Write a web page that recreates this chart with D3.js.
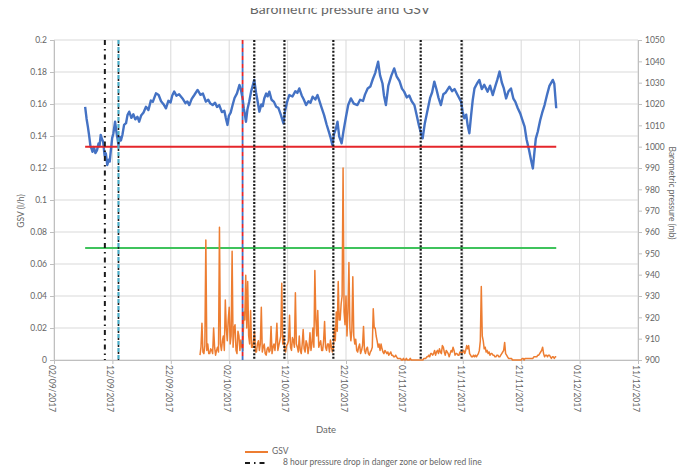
<!DOCTYPE html>
<html>
<head>
<meta charset="utf-8">
<script src="https://cdn.jsdelivr.net/npm/d3@7"></script>
<style>
  html, body { margin: 0; padding: 0; background: #fff; }
  svg { display: block; font-family: Lato, "Open Sans", sans-serif; }
</style>
</head>
<body>
<svg id="chart" width="677" height="472"></svg>
<script>
// ---- Data ---------------------------------------------------------------
const chartTitle = "Barometric pressure and GSV";

// Date axis ticks (every ten days)
const dateTickLabels = ["02/09/2017", "12/09/2017", "22/09/2017", "02/10/2017", "12/10/2017",
  "22/10/2017", "01/11/2017", "11/11/2017", "21/11/2017", "01/12/2017", "11/12/2017"];

// GSV axis (l/h) and pressure axis (mb) ticks
const gsvTicks = [0, 0.02, 0.04, 0.06, 0.08, 0.1, 0.12, 0.14, 0.16, 0.18, 0.2];
const pressureTicks = [900, 910, 920, 930, 940, 950, 960, 970, 980, 990, 1000,
  1010, 1020, 1030, 1040, 1050];

// Barometric pressure readings: [time, mb]
const pressureReadings = [
  ["2017-09-07 08:00", 1018.7], ["2017-09-07 14:00", 1013.0], ["2017-09-07 19:00", 1009.5],
  ["2017-09-08 00:00", 1005.5], ["2017-09-08 06:00", 1000.0], ["2017-09-08 10:00", 999.2],
  ["2017-09-08 14:00", 997.6], ["2017-09-08 20:00", 999.8], ["2017-09-09 02:00", 997.0],
  ["2017-09-09 09:00", 998.4], ["2017-09-09 15:00", 1001.5], ["2017-09-09 19:00", 1000.2],
  ["2017-09-10 00:00", 1005.5], ["2017-09-10 05:00", 1003.6], ["2017-09-10 10:00", 1002.3],
  ["2017-09-10 16:00", 995.8], ["2017-09-10 21:00", 996.9], ["2017-09-11 03:00", 991.4],
  ["2017-09-11 09:00", 993.9], ["2017-09-11 13:00", 993.0], ["2017-09-11 17:00", 997.6],
  ["2017-09-11 23:00", 1004.0], ["2017-09-12 04:00", 1006.2], ["2017-09-12 11:00", 1011.7],
  ["2017-09-12 17:00", 1006.5], ["2017-09-12 21:00", 1003.8], ["2017-09-13 01:00", 1000.8],
  ["2017-09-13 06:00", 1004.6], ["2017-09-13 11:00", 1002.9], ["2017-09-13 17:00", 1005.5],
  ["2017-09-14 00:00", 1010.2], ["2017-09-14 08:00", 1011.0], ["2017-09-14 14:00", 1014.8],
  ["2017-09-14 21:00", 1016.4], ["2017-09-15 06:00", 1013.5], ["2017-09-15 14:00", 1015.2],
  ["2017-09-15 22:00", 1012.8], ["2017-09-16 07:00", 1014.0], ["2017-09-16 14:00", 1011.7],
  ["2017-09-16 22:00", 1014.6], ["2017-09-17 08:00", 1016.0], ["2017-09-17 18:00", 1018.7],
  ["2017-09-18 04:00", 1017.2], ["2017-09-18 14:00", 1021.6], ["2017-09-18 22:00", 1021.0],
  ["2017-09-19 11:00", 1025.0], ["2017-09-19 22:00", 1024.2], ["2017-09-20 08:00", 1021.3],
  ["2017-09-20 18:00", 1019.9], ["2017-09-21 04:00", 1018.0], ["2017-09-21 14:00", 1021.5],
  ["2017-09-21 23:00", 1020.7], ["2017-09-22 06:00", 1024.0], ["2017-09-22 14:00", 1025.8],
  ["2017-09-22 23:00", 1023.9], ["2017-09-23 10:00", 1024.6], ["2017-09-24 00:00", 1022.6],
  ["2017-09-24 12:00", 1020.4], ["2017-09-24 20:00", 1021.2], ["2017-09-25 04:00", 1019.5],
  ["2017-09-25 14:00", 1022.4], ["2017-09-26 00:00", 1024.1], ["2017-09-26 14:00", 1026.6],
  ["2017-09-27 02:00", 1024.3], ["2017-09-27 12:00", 1024.9], ["2017-09-28 00:00", 1021.1],
  ["2017-09-28 10:00", 1022.0], ["2017-09-28 18:00", 1020.3], ["2017-09-29 04:00", 1019.5],
  ["2017-09-29 14:00", 1020.6], ["2017-09-29 22:00", 1018.6], ["2017-09-30 07:00", 1019.5],
  ["2017-09-30 18:00", 1016.2], ["2017-10-01 04:00", 1016.8], ["2017-10-01 10:00", 1013.5],
  ["2017-10-01 17:00", 1010.2], ["2017-10-01 23:00", 1014.6], ["2017-10-02 06:00", 1015.9],
  ["2017-10-02 14:00", 1019.5], ["2017-10-02 22:00", 1022.8], ["2017-10-03 08:00", 1025.0],
  ["2017-10-03 18:00", 1028.9], ["2017-10-03 23:00", 1027.4], ["2017-10-04 07:00", 1022.6],
  ["2017-10-04 12:00", 1017.8], ["2017-10-04 16:00", 1015.4], ["2017-10-04 21:00", 1011.7],
  ["2017-10-05 03:00", 1017.5], ["2017-10-05 10:00", 1020.9], ["2017-10-05 18:00", 1025.8],
  ["2017-10-05 23:00", 1028.0], ["2017-10-06 07:00", 1031.3], ["2017-10-06 14:00", 1025.5],
  ["2017-10-06 20:00", 1021.8], ["2017-10-07 04:00", 1016.4], ["2017-10-07 12:00", 1019.8],
  ["2017-10-07 18:00", 1019.0], ["2017-10-08 00:00", 1022.6], ["2017-10-08 08:00", 1024.9],
  ["2017-10-08 14:00", 1023.6], ["2017-10-08 21:00", 1025.8], ["2017-10-09 06:00", 1022.0],
  ["2017-10-09 16:00", 1021.0], ["2017-10-10 01:00", 1018.7], ["2017-10-10 10:00", 1018.2],
  ["2017-10-10 20:00", 1015.0], ["2017-10-11 07:00", 1010.9], ["2017-10-11 14:00", 1017.0],
  ["2017-10-11 22:00", 1021.0], ["2017-10-12 07:00", 1024.2], ["2017-10-12 20:00", 1023.5],
  ["2017-10-13 08:00", 1026.0], ["2017-10-13 16:00", 1025.2], ["2017-10-14 00:00", 1027.3],
  ["2017-10-14 10:00", 1024.0], ["2017-10-14 18:00", 1022.2], ["2017-10-15 04:00", 1019.5],
  ["2017-10-15 14:00", 1021.3], ["2017-10-15 22:00", 1020.6], ["2017-10-16 07:00", 1023.4],
  ["2017-10-16 18:00", 1022.1], ["2017-10-17 03:00", 1024.2], ["2017-10-17 12:00", 1021.0],
  ["2017-10-17 20:00", 1018.2], ["2017-10-18 06:00", 1014.8], ["2017-10-18 16:00", 1010.5],
  ["2017-10-19 02:00", 1006.8], ["2017-10-19 08:00", 1004.5], ["2017-10-19 16:00", 1000.8],
  ["2017-10-19 23:00", 1006.0], ["2017-10-20 06:00", 1008.2], ["2017-10-20 13:00", 1011.7],
  ["2017-10-20 20:00", 1004.8], ["2017-10-21 06:00", 1001.6], ["2017-10-21 14:00", 1007.5],
  ["2017-10-22 00:00", 1014.0], ["2017-10-22 09:00", 1019.5], ["2017-10-22 20:00", 1022.6],
  ["2017-10-23 08:00", 1020.2], ["2017-10-23 23:00", 1019.5], ["2017-10-24 10:00", 1022.0],
  ["2017-10-24 22:00", 1021.4], ["2017-10-25 06:00", 1024.4], ["2017-10-25 17:00", 1027.3],
  ["2017-10-26 04:00", 1028.2], ["2017-10-26 14:00", 1031.6], ["2017-10-27 00:00", 1034.5],
  ["2017-10-27 12:00", 1039.8], ["2017-10-27 20:00", 1033.4], ["2017-10-28 06:00", 1029.6],
  ["2017-10-28 12:00", 1024.0], ["2017-10-28 20:00", 1019.5], ["2017-10-29 06:00", 1028.6],
  ["2017-10-29 18:00", 1033.2], ["2017-10-30 06:00", 1036.7], ["2017-10-30 16:00", 1033.0],
  ["2017-10-31 04:00", 1030.7], ["2017-10-31 14:00", 1027.2], ["2017-10-31 23:00", 1025.8],
  ["2017-11-01 10:00", 1023.1], ["2017-11-01 20:00", 1024.0], ["2017-11-02 06:00", 1021.3],
  ["2017-11-02 17:00", 1019.5], ["2017-11-03 02:00", 1015.0], ["2017-11-03 12:00", 1009.8],
  ["2017-11-03 20:00", 1006.4], ["2017-11-04 03:00", 1003.9], ["2017-11-04 12:00", 1011.0],
  ["2017-11-04 22:00", 1016.5], ["2017-11-05 10:00", 1023.0], ["2017-11-05 18:00", 1025.5],
  ["2017-11-06 03:00", 1030.5], ["2017-11-06 12:00", 1026.8], ["2017-11-06 20:00", 1023.0],
  ["2017-11-07 06:00", 1019.5], ["2017-11-07 16:00", 1024.6], ["2017-11-08 02:00", 1025.4],
  ["2017-11-08 17:00", 1028.1], ["2017-11-09 04:00", 1026.0], ["2017-11-09 14:00", 1027.0],
  ["2017-11-10 02:00", 1024.3], ["2017-11-10 17:00", 1021.1], ["2017-11-10 23:00", 1016.5],
  ["2017-11-11 06:00", 1013.3], ["2017-11-11 14:00", 1015.0], ["2017-11-11 20:00", 1010.0],
  ["2017-11-12 03:00", 1006.3], ["2017-11-12 10:00", 1014.6], ["2017-11-12 17:00", 1022.0],
  ["2017-11-13 00:00", 1027.3], ["2017-11-13 10:00", 1029.5], ["2017-11-13 20:00", 1031.3],
  ["2017-11-14 06:00", 1027.0], ["2017-11-14 16:00", 1029.0], ["2017-11-15 06:00", 1025.8],
  ["2017-11-15 16:00", 1028.6], ["2017-11-16 03:00", 1024.2], ["2017-11-16 14:00", 1028.5],
  ["2017-11-16 22:00", 1031.4], ["2017-11-17 07:00", 1035.2], ["2017-11-17 16:00", 1030.2],
  ["2017-11-18 00:00", 1027.6], ["2017-11-18 10:00", 1022.6], ["2017-11-18 20:00", 1026.0],
  ["2017-11-19 06:00", 1027.3], ["2017-11-19 16:00", 1022.5], ["2017-11-20 00:00", 1021.0],
  ["2017-11-20 10:00", 1018.0], ["2017-11-20 20:00", 1015.6], ["2017-11-21 04:00", 1012.8],
  ["2017-11-21 14:00", 1009.4], ["2017-11-21 22:00", 1003.5], ["2017-11-22 08:00", 998.6],
  ["2017-11-22 16:00", 994.0], ["2017-11-23 00:00", 989.8], ["2017-11-23 06:00", 997.0],
  ["2017-11-23 12:00", 1003.8], ["2017-11-23 20:00", 1007.0], ["2017-11-24 06:00", 1012.4],
  ["2017-11-24 14:00", 1015.8], ["2017-11-25 00:00", 1019.5], ["2017-11-25 10:00", 1024.2],
  ["2017-11-25 20:00", 1028.5], ["2017-11-26 10:00", 1031.3], ["2017-11-26 16:00", 1029.5],
  ["2017-11-27 00:00", 1018.0]
];

// GSV readings (l/h), logged every 4 hours from 27/09/2017 00:00 (one row per day)
const gsvStart = "2017-09-27 00:00";
const gsvStepHours = 4;
const gsvValues = [
  0.003, 0.008, 0.023, 0.005, 0.004, 0.009,
  0.075, 0.006, 0.010, 0.004, 0.004, 0.007,
  0.006, 0.004, 0.020, 0.008, 0.003, 0.006,
  0.008, 0.005, 0.083, 0.010, 0.006, 0.012,
  0.015, 0.006, 0.0375, 0.020, 0.012, 0.025,
  0.033, 0.010, 0.015, 0.068, 0.008, 0.020,
  0.022, 0.006, 0.004, 0.018, 0.015, 0.006,
  0.0125, 0.008, 0.006, 0.030, 0.025, 0.053,
  0.020, 0.049, 0.015, 0.010, 0.031, 0.008,
  0.008, 0.012, 0.018, 0.005, 0.005, 0.010,
  0.012, 0.006, 0.010, 0.033, 0.005, 0.008,
  0.010, 0.004, 0.003, 0.007, 0.008, 0.005,
  0.006, 0.021, 0.004, 0.008, 0.010, 0.006,
  0.012, 0.023, 0.006, 0.009, 0.012, 0.015,
  0.048, 0.010, 0.015, 0.006, 0.005, 0.009,
  0.010, 0.012, 0.028, 0.008, 0.006, 0.014,
  0.012, 0.008, 0.042, 0.010, 0.008, 0.005,
  0.015, 0.006, 0.004, 0.010, 0.019, 0.007,
  0.005, 0.012, 0.010, 0.004, 0.008, 0.017,
  0.006, 0.010, 0.020, 0.008, 0.056, 0.025,
  0.015, 0.031, 0.008, 0.010, 0.012, 0.006,
  0.006, 0.012, 0.024, 0.008, 0.006, 0.010,
  0.010, 0.005, 0.0125, 0.008, 0.005, 0.007,
  0.020, 0.012, 0.030, 0.018, 0.049, 0.025,
  0.025, 0.035, 0.040, 0.120, 0.030, 0.022,
  0.040, 0.015, 0.030, 0.061, 0.020, 0.012,
  0.018, 0.052, 0.015, 0.010, 0.013, 0.006,
  0.005, 0.008, 0.010, 0.004, 0.006, 0.009,
  0.021, 0.006, 0.004, 0.007, 0.008, 0.004,
  0.003, 0.005, 0.006, 0.008, 0.032, 0.020,
  0.020, 0.015, 0.012, 0.008, 0.010, 0.006,
  0.010, 0.007, 0.005, 0.004, 0.006, 0.005,
  0.004, 0.005, 0.003, 0.004, 0.005, 0.003,
  0.003, 0.002, 0.002, 0.003, 0.002, 0.001,
  0.001, 0.001, 0.001, 0.000, 0.000, 0.001,
  0.000, 0.000, 0.001, 0.000, 0.000, 0.000,
  0.001, 0.000, 0.000, 0.000, 0.000, 0.000,
  0.000, 0.000, 0.000, 0.000, 0.000, 0.000,
  0.000, 0.000, 0.001, 0.001, 0.001, 0.002,
  0.002, 0.003, 0.002, 0.004, 0.004, 0.003,
  0.004, 0.006, 0.003, 0.005, 0.006, 0.004,
  0.007, 0.005, 0.004, 0.009, 0.008, 0.005,
  0.003, 0.006, 0.005, 0.004, 0.002, 0.004,
  0.006, 0.005, 0.008, 0.006, 0.003, 0.004,
  0.004, 0.003, 0.003, 0.005, 0.005, 0.004,
  0.005, 0.006, 0.004, 0.006, 0.009, 0.007,
  0.009, 0.004, 0.003, 0.002, 0.002, 0.003,
  0.002, 0.003, 0.002, 0.003, 0.004, 0.006,
  0.012, 0.046, 0.015, 0.012, 0.007, 0.008,
  0.005, 0.006, 0.004, 0.005, 0.003, 0.004,
  0.004, 0.003, 0.003, 0.002, 0.002, 0.003,
  0.003, 0.002, 0.002, 0.003, 0.004, 0.005,
  0.006, 0.011, 0.004, 0.003, 0.002, 0.001,
  0.001, 0.001, 0.001, 0.000, 0.000, 0.000,
  0.000, 0.000, 0.000, 0.000, 0.000, 0.000,
  0.000, 0.001, 0.001, 0.000, 0.001, 0.001,
  0.001, 0.001, 0.001, 0.001, 0.001, 0.001,
  0.001, 0.002, 0.002, 0.002, 0.002, 0.003,
  0.003, 0.004, 0.005, 0.006, 0.008, 0.004,
  0.002, 0.003, 0.003, 0.002, 0.003, 0.003,
  0.002, 0.001, 0.002, 0.002, 0.001, 0.002,
  0.002
];

// Reference levels
const pressureDangerLevel = 1000;   // mb, red line
const gsvLimit = 0.07;              // l/h, green line

// Event markers: 8 hour pressure drops in danger zone or below red line
const dropDashDot = ["2017-09-10 17:00"];
const dropCyan = ["2017-09-13 01:00"];
const dropRedBlue = ["2017-10-04 07:00"];
const dropDotted = ["2017-10-06 07:00", "2017-10-11 11:00", "2017-10-19 20:00",
  "2017-11-03 19:00", "2017-11-10 19:00"];

const legendItems = ["GSV", "8 hour pressure drop in danger zone or below red line"];

// ---- Layout -------------------------------------------------------------
const W = 677, H = 472;
const plot = { left: 54, right: 638, top: 40, bottom: 360 };
const textColor = "#666";
const gridColor = "#d9d9d9";
const axisColor = "#bfbfbf";

const parseTime = d3.timeParse("%Y-%m-%d %H:%M");
const parseDay = d3.timeParse("%d/%m/%Y");

const pressure = pressureReadings.map(([t, v]) => ({ t: parseTime(t), v }));
const gsvT0 = parseTime(gsvStart);
const gsv = gsvValues.map((v, i) => ({ t: d3.timeHour.offset(gsvT0, i * gsvStepHours), v }));
const dateTicks = dateTickLabels.map(parseDay);

const x = d3.scaleTime()
  .domain([dateTicks[0], dateTicks[dateTicks.length - 1]])
  .range([plot.left, plot.right]);
const yL = d3.scaleLinear().domain([0, 0.2]).range([plot.bottom, plot.top]);
const yR = d3.scaleLinear().domain([900, 1050]).range([plot.bottom, plot.top]);

const svg = d3.select("#chart");

// Title (partially hidden along the top edge)
svg.append("defs").append("clipPath").attr("id", "titleClip")
  .append("rect").attr("x", 0).attr("y", 8).attr("width", W).attr("height", 20);
svg.append("text")
  .attr("x", 340).attr("y", 14)
  .attr("text-anchor", "middle")
  .attr("clip-path", "url(#titleClip)")
  .attr("font-size", 14).attr("fill", textColor)
  .text(chartTitle);

// Gridlines
const grid = svg.append("g");
grid.selectAll("line.h").data(gsvTicks).join("line")
  .attr("x1", plot.left).attr("x2", plot.right)
  .attr("y1", d => yL(d)).attr("y2", d => yL(d))
  .attr("stroke", gridColor).attr("stroke-width", 1);
grid.selectAll("line.v").data(dateTicks).join("line")
  .attr("x1", d => x(d)).attr("x2", d => x(d))
  .attr("y1", plot.top).attr("y2", plot.bottom)
  .attr("stroke", gridColor).attr("stroke-width", 1);

// Axes
const leftAxis = svg.append("g").attr("transform", `translate(${plot.left},0)`)
  .call(d3.axisLeft(yL).tickValues(gsvTicks).tickSize(4).tickPadding(3)
    .tickFormat(d => String(+d.toFixed(2))));
const rightAxis = svg.append("g").attr("transform", `translate(${plot.right},0)`)
  .call(d3.axisRight(yR).tickValues(pressureTicks).tickSize(4).tickPadding(3)
    .tickFormat(d3.format("d")));
const bottomAxis = svg.append("g").attr("transform", `translate(0,${plot.bottom})`)
  .call(d3.axisBottom(x).tickValues(dateTicks).tickSize(4).tickFormat(() => ""));
[leftAxis, rightAxis, bottomAxis].forEach(g => {
  g.select(".domain").attr("stroke", axisColor);
  g.selectAll(".tick line").attr("stroke", axisColor);
  g.selectAll(".tick text").attr("fill", textColor).attr("font-size", 8.5)
    .attr("font-family", "Lato, sans-serif");
});

// Rotated date labels
svg.append("g").selectAll("text").data(dateTicks).join("text")
  .attr("transform", d => `translate(${x(d) - 3},${plot.bottom + 5}) rotate(90)`)
  .attr("dominant-baseline", "middle")
  .attr("font-size", 8.5).attr("fill", textColor)
  .text((d, i) => dateTickLabels[i]);

// Axis titles
svg.append("text")
  .attr("transform", `translate(22,211) rotate(-90)`)
  .attr("text-anchor", "middle").attr("dominant-baseline", "middle")
  .attr("font-size", 8.5).attr("fill", textColor).text("GSV (l/h)");
svg.append("text")
  .attr("transform", `translate(671,193) rotate(90)`)
  .attr("text-anchor", "middle").attr("dominant-baseline", "middle")
  .attr("font-size", 8.5).attr("fill", textColor).text("Barometric pressure (mb)");
svg.append("text")
  .attr("x", 326).attr("y", 433)
  .attr("text-anchor", "middle")
  .attr("font-size", 9.5).attr("fill", textColor).text("Date");

// GSV limit over the pressure record span
const span = d3.extent(pressure, d => d.t);
svg.append("line")
  .attr("x1", x(span[0])).attr("x2", x(span[1]))
  .attr("y1", yL(gsvLimit)).attr("y2", yL(gsvLimit))
  .attr("stroke", "#3fc35c").attr("stroke-width", 2);

// GSV series
svg.append("path").datum(gsv)
  .attr("fill", "none").attr("stroke", "#ed7d31").attr("stroke-width", 1.5)
  .attr("stroke-linejoin", "round")
  .attr("d", d3.line().x(d => x(d.t)).y(d => yL(d.v)));

// Pressure series
svg.append("path").datum(pressure)
  .attr("fill", "none").attr("stroke", "#4472c4").attr("stroke-width", 2.4)
  .attr("stroke-linejoin", "round")
  .attr("d", d3.line().x(d => x(d.t)).y(d => yR(d.v)));

// Pressure danger level
svg.append("line")
  .attr("x1", x(span[0])).attr("x2", x(span[1]))
  .attr("y1", yR(pressureDangerLevel)).attr("y2", yR(pressureDangerLevel))
  .attr("stroke", "#e5262b").attr("stroke-width", 2);

// Event markers
const markers = svg.append("g");
function vlines(dates, stroke, width, dash, offset) {
  markers.append("g").selectAll("line").data(dates.map(parseTime)).join("line")
    .attr("x1", d => x(d)).attr("x2", d => x(d))
    .attr("y1", plot.top).attr("y2", plot.bottom)
    .attr("stroke", stroke).attr("stroke-width", width)
    .attr("stroke-dasharray", dash).attr("stroke-dashoffset", offset || 0);
}
vlines(dropDashDot, "#1a1a1a", 2, "5,4,1.5,4");
vlines(dropCyan, "#4bacc6", 2.2, "4,3");
vlines(dropCyan, "#1a1a1a", 1.6, "2,5", 3);
vlines(dropRedBlue, "#e5262b", 1.8, "4,4");
vlines(dropRedBlue, "#4472c4", 1.8, "4,4", 4);
vlines(dropDotted, "#1a1a1a", 2.2, "2,1.6");

// Legend
const legend = svg.append("g");
legend.append("line").attr("x1", 245).attr("x2", 268).attr("y1", 452).attr("y2", 452)
  .attr("stroke", "#ed7d31").attr("stroke-width", 2);
legend.append("text").attr("x", 272).attr("y", 452).attr("dominant-baseline", "middle")
  .attr("font-size", 8.5).attr("fill", textColor).text(legendItems[0]);
legend.append("line").attr("x1", 245).attr("x2", 268).attr("y1", 463).attr("y2", 463)
  .attr("stroke", "#1a1a1a").attr("stroke-width", 2).attr("stroke-dasharray", "5,4,1.5,4");
legend.append("text").attr("x", 283).attr("y", 463).attr("dominant-baseline", "middle")
  .attr("font-size", 8.5).attr("fill", textColor).text(legendItems[1]);
</script>
</body>
</html>
